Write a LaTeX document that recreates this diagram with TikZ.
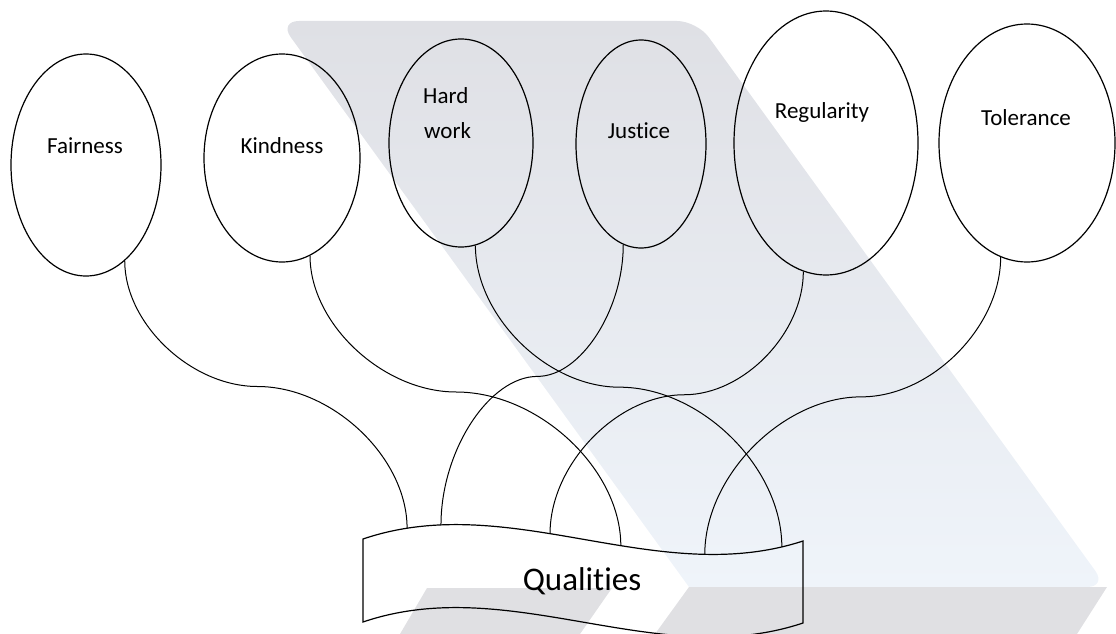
\documentclass[tikz,border=0pt]{standalone}
\usepackage{fontspec}
\setmainfont{Carlito}[Ligatures=NoCommon]
\usetikzlibrary{shapes.geometric,calc}

\definecolor{markgrey}{HTML}{DFE0E5}
\definecolor{markblue}{HTML}{EFF4FA}
\definecolor{bargrey}{HTML}{E0E0E3}

\tikzset{
  oval/.style={draw,ellipse,line width=1.2pt,inner sep=0pt},
  lbl/.style={anchor=base,inner sep=0pt,font=\fontsize{23}{35}\selectfont},
  link/.style={line width=1pt},
}

\begin{document}
\begin{tikzpicture}[x=1pt,y=-1pt]
   \useasboundingbox (0,0) rectangle (1116,634);

   % faint logo behind the diagram
   \shade[top color=markgrey,bottom color=markblue]
   (689,587) [rounded corners=20pt] -- (279,21) -- (697,21) -- (1107,587) [sharp corners] -- cycle;
   \fill[bargrey] (689,587) -- (1107,587) -- (1077,634) -- (655,634) -- cycle;
   \fill[bargrey] (427,588) -- (612,588) -- (580,634) -- (400,634) -- cycle;

   % the six qualities
   \node[oval,minimum width=150pt,minimum height=222pt] (fair) at (86,165) {};
   \node[oval,minimum width=156pt,minimum height=208pt] (kind) at (282,158) {};
   \node[oval,minimum width=144pt,minimum height=208pt] (hard) at (461,143) {};
   \node[oval,minimum width=130pt,minimum height=208pt] (just) at (641,144) {};
   \node[oval,minimum width=184pt,minimum height=264pt] (regu) at (826,143) {};
   \node[oval,minimum width=176pt,minimum height=238pt] (tole) at (1027,143) {};

   \node[lbl] (tfair) at (85,153.5) {Fairness};
   \node[lbl] (tkind) at (282,153) {Kindness};
   \node[lbl,anchor=base west] (thard) at (423,103) {Hard};
   \node[lbl,anchor=base west] (twork) at (424,138.5) {work};
   \node[lbl] (tjust) at (639,138) {Justice};
   \node[lbl] (tregu) at (822,118) {Regularity};
   \node[lbl] (ttole) at (1026,125.5) {Tolerance};

   % banner
   \draw[line width=1.2pt]
   (363,539) .. controls (510,489) and (656,589) .. (803,541)
      coordinate[pos=.1] (q1) coordinate[pos=.177] (q2)
      coordinate[pos=.425] (q3) coordinate[pos=.586] (q4)
      coordinate[pos=.777] (q5) coordinate[pos=.952] (q6)
   -- (803,623) .. controls (656,672) and (510,572) .. (363,622) -- cycle;
   \node[anchor=base,inner sep=0pt,font=\fontsize{33}{40}\selectfont] (qual) at (582,590) {Qualities};

   % curly links
   \foreach \src/\ang/\dst in {fair/-68/q1,kind/-74/q4,hard/-82/q6,just/-100/q2,regu/-100/q3,tole/-103/q5}{
      \path (\src.\ang) coordinate (s) ($(s)!.235!(\dst)$) coordinate (h1)
         ($(s)!.47!(\dst)$) coordinate (hm) ($(s)!.735!(\dst)$) coordinate (h3);
      \draw[link] (s) .. controls (s |- h1) and (h1 |- hm) .. (hm)
         .. controls (h3 |- hm) and (\dst |- h3) .. (\dst);
   }
\end{tikzpicture}
\end{document}
